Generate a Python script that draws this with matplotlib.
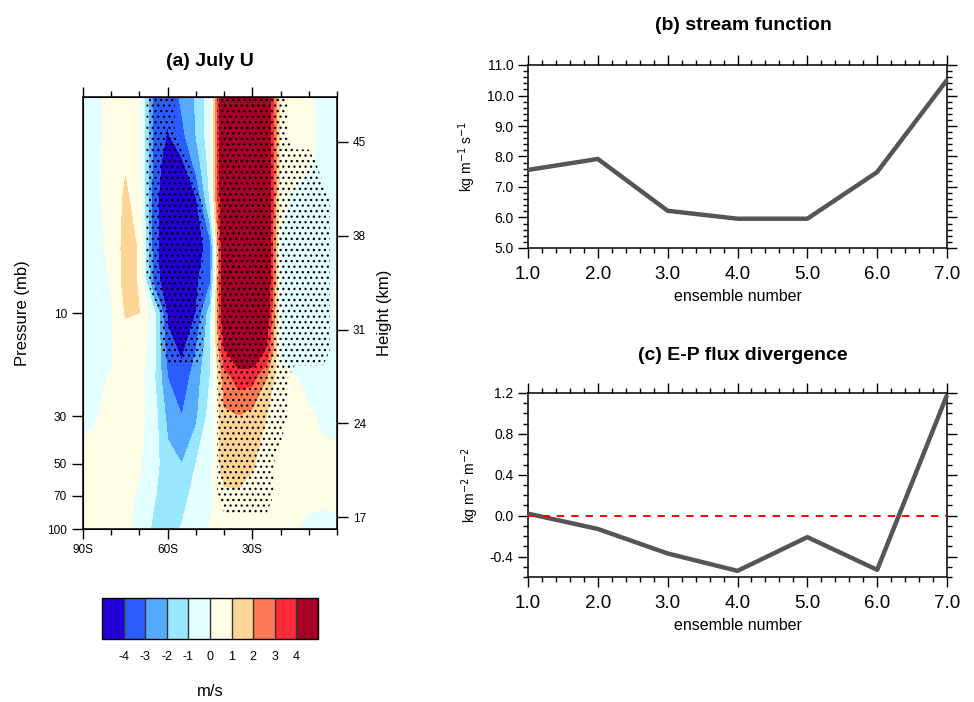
import numpy as np
import matplotlib
matplotlib.use("Agg")
import matplotlib.pyplot as plt
from matplotlib.colors import ListedColormap
from matplotlib.ticker import MultipleLocator, NullLocator, FixedLocator, FormatStrFormatter

plt.rcParams['font.family'] = ['Liberation Sans', 'DejaVu Sans']
plt.rcParams['axes.unicode_minus'] = False
plt.rcParams['hatch.color'] = 'black'
plt.rcParams['hatch.linewidth'] = 0.9

# ---- panel (a): July zonal wind difference (m/s)
lats = [-90, -85, -80, -75, -70, -65, -60, -55, -50, -45,
        -40, -35, -30, -25, -20, -15, -10, -5, 0]
plevs = [1, 1.5, 2, 3, 5, 7, 10, 15, 20, 30, 50, 70, 100]
u_july = np.array([
    [-0.3, -0.2, 0.3, 0.5, 0.1, -3.3, -3.8, -2.8, -1.9, -0.5, 6.0, 7.0, 7.0, 5.5, 0.6, 0.4, 0.2, -0.3, -0.5],
    [-0.3, -0.2, 0.3, 0.6, 0.2, -3.2, -4.1, -3.3, -2.0, -0.4, 6.0, 7.5, 7.5, 5.5, 0.6, 0.4, 0.2, -0.2, -0.5],
    [-0.3, -0.1, 0.3, 0.9, 0.3, -3.3, -4.6, -4.2, -2.6, -0.6, 6.0, 8.0, 8.0, 5.5, 0.6, 0.3, 0.1, -0.2, -0.4],
    [-0.3, -0.1, 0.2, 1.2, 0.5, -3.6, -4.8, -4.8, -4.2, -0.9, 6.0, 8.0, 8.0, 5.5, 0.3, -0.2, -0.3, -0.3, -0.4],
    [-0.3, -0.1, 0.1, 1.4, 0.9, -3.5, -5.0, -5.2, -4.5, -3.6, 6.0, 8.0, 8.0, 5.5, -0.2, -0.5, -0.6, -0.4, -0.2],
    [-0.3, -0.2, 0.05, 1.4, 0.9, -3.3, -5.0, -5.0, -4.2, -3.2, 6.0, 8.0, 8.0, 5.5, -0.2, -0.6, -0.6, -0.3, 0.05],
    [-0.3, -0.2, -0.1, 1.05, 1.0, -0.6, -4.2, -5.0, -4.0, -1.5, 5.5, 8.0, 8.0, 5.0, -0.2, -0.6, -0.5, -0.2, 0.05],
    [-0.2, -0.1, -0.1, 0.6, 0.5, -0.6, -3.5, -4.2, -3.0, -1.2, 3.8, 5.0, 5.0, 3.8, -0.1, -0.5, -0.4, -0.2, -0.2],
    [-0.2, -0.1, 0.05, 0.5, 0.4, -0.8, -3.0, -3.6, -2.5, -1.0, 2.5, 3.4, 3.3, 2.0, 0.2, 0.05, -0.2, -0.3, -0.3],
    [-0.2, -0.05, 0.3, 0.4, 0.3, -0.5, -2.3, -3.0, -2.2, -0.6, 1.8, 1.95, 1.6, 1.0, 0.3, 0.4, 0.1, -0.1, -0.2],
    [0.3, 0.4, 0.4, 0.3, 0.1, -0.6, -1.6, -2.0, -1.0, -0.3, 1.6, 1.6, 1.1, 0.5, 0.4, 0.4, 0.3, 0.2, 0.2],
    [0.3, 0.4, 0.4, 0.2, -0.1, -0.9, -1.5, -1.4, -0.6, -0.2, 0.7, 0.8, 0.6, 0.4, 0.3, 0.3, 0.2, 0.1, 0.1],
    [0.3, 0.4, 0.3, 0.2, -0.3, -1.2, -1.5, -0.9, -0.4, 0.05, 0.3, 0.4, 0.3, 0.2, 0.2, 0.05, -0.2, -0.2, -0.1],
])
# 1 where the difference is significant (stippled)
sig_july = np.array([
    [0, 0, 0, 0, 0, 1, 1, 0, 0, 0, 1, 1, 1, 1, 1, 0, 0, 0, 0],
    [0, 0, 0, 0, 0, 1, 1, 0, 0, 0, 1, 1, 1, 1, 1, 0, 0, 0, 0],
    [0, 0, 0, 0, 0, 1, 1, 1, 0, 0, 1, 1, 1, 1, 1, 1, 1, 0, 0],
    [0, 0, 0, 0, 0, 1, 1, 1, 1, 0, 1, 1, 1, 1, 1, 1, 1, 1, 0],
    [0, 0, 0, 0, 0, 1, 1, 1, 1, 0, 1, 1, 1, 1, 1, 1, 1, 1, 0],
    [0, 0, 0, 0, 0, 1, 1, 1, 1, 0, 1, 1, 1, 1, 1, 1, 1, 1, 0],
    [0, 0, 0, 0, 0, 0, 1, 1, 1, 0, 1, 1, 1, 1, 1, 1, 1, 1, 0],
    [0, 0, 0, 0, 0, 0, 1, 1, 1, 0, 1, 1, 1, 1, 1, 1, 1, 1, 0],
    [0, 0, 0, 0, 0, 0, 0, 0, 0, 0, 1, 1, 1, 1, 1, 0, 0, 0, 0],
    [0, 0, 0, 0, 0, 0, 0, 0, 0, 0, 1, 1, 1, 1, 1, 0, 0, 0, 0],
    [0, 0, 0, 0, 0, 0, 0, 0, 0, 0, 1, 1, 1, 1, 0, 0, 0, 0, 0],
    [0, 0, 0, 0, 0, 0, 0, 0, 0, 0, 1, 1, 1, 1, 0, 0, 0, 0, 0],
    [0, 0, 0, 0, 0, 0, 0, 0, 0, 0, 0, 0, 0, 0, 0, 0, 0, 0, 0],
])
u_levels = [-4, -3, -2, -1, 0, 1, 2, 3, 4]
u_colors = ['#2200d4', '#2b5cff', '#55aaff', '#99e6ff', '#e4ffff',
            '#fffde6', '#ffd597', '#ff7a55', '#ff2a3a', '#a50026']
p_ticks = [10, 30, 50, 70, 100]
lat_ticks = [-90, -60, -30]
lat_labels = ['90S', '60S', '30S']
height_km = [17, 24, 31, 38, 45]

# ---- panels (b) and (c)
ens = [1, 2, 3, 4, 5, 6, 7]
stream = [7.56, 7.92, 6.22, 5.96, 5.96, 7.49, 10.51]
ep_div = [0.02, -0.13, -0.37, -0.54, -0.21, -0.53, 1.18]

W, H = 974, 702
fig = plt.figure(figsize=(W / 100, H / 100), dpi=100)


def box(x0, y0, x1, y1):
    return [x0 / W, 1 - y1 / H, (x1 - x0) / W, (y1 - y0) / H]


# ---------------- (a)
ax = fig.add_axes(box(83, 97, 337, 529))
cmap = ListedColormap(u_colors[1:-1])
cmap.set_under(u_colors[0])
cmap.set_over(u_colors[-1])
cf = ax.contourf(lats, plevs, u_july, levels=u_levels, cmap=cmap, extend='both')
ax.contourf(lats, plevs, sig_july, levels=[0.5, 1.5], colors='none', hatches=['...'])
ax.set_yscale('log')
ax.set_ylim(100, 1)
ax.set_xlim(-90, 0)
ax.yaxis.set_major_locator(FixedLocator(p_ticks))
ax.yaxis.set_minor_locator(NullLocator())
ax.set_yticklabels([str(p) for p in p_ticks])
ax.set_xticks(lat_ticks)
ax.set_xticklabels(lat_labels)
ax.xaxis.set_minor_locator(MultipleLocator(10))
ax.tick_params(which='both', direction='out', top=True, labelsize=8.5, width=1)
ax.tick_params(which='major', length=7)
ax.tick_params(which='minor', length=4)
ax.tick_params(axis='y', length=8)
ax.set_ylabel('Pressure (mb)', fontsize=12, labelpad=12)
for s in ax.spines.values():
    s.set_linewidth(1.1)

ax2 = ax.twinx()
ax2.set_yscale('log')
ax2.set_ylim(100, 1)
ax2.yaxis.set_major_locator(FixedLocator([1000 * np.exp(-z / 7.0) for z in height_km]))
ax2.yaxis.set_minor_locator(NullLocator())
ax2.set_yticklabels([str(z) for z in height_km])
ax2.tick_params(direction='out', length=8, width=1, labelsize=8.5)
ax2.set_ylabel('Height (km)', fontsize=12, labelpad=8)
fig.text(210 / W, 1 - 62 / H, '(a) July U', ha='center', va='center',
         fontsize=14, fontweight='bold')

cax = fig.add_axes(box(102, 598, 318, 639))
cb = fig.colorbar(cf, cax=cax, orientation='horizontal', extendrect=True,
                  extendfrac='auto', drawedges=True, ticks=u_levels)
cb.outline.set_linewidth(1.0)
cb.dividers.set_color('#333333')
cb.dividers.set_linewidth(1.0)
cax.tick_params(length=0, labelsize=9, pad=9)
fig.text(210 / W, 1 - 692 / H, 'm/s', ha='center', va='center', fontsize=12)


# ---------------- (b), (c)
def line_panel(rect, y, ylim, ymajor, yminor, ylabel, title, ty):
    a = fig.add_axes(rect)
    a.plot(ens, y, color='#555555', lw=3.2, solid_capstyle='butt', clip_on=False, zorder=3)
    a.set_xlim(1, 7)
    a.set_ylim(*ylim)
    a.xaxis.set_major_locator(MultipleLocator(1))
    a.xaxis.set_minor_locator(MultipleLocator(0.2))
    a.yaxis.set_major_locator(ymajor)
    a.yaxis.set_minor_locator(MultipleLocator(yminor))
    a.xaxis.set_major_formatter(FormatStrFormatter('%.1f'))
    a.yaxis.set_major_formatter(FormatStrFormatter('%.1f'))
    a.tick_params(which='both', direction='out', top=True, right=True, width=1)
    a.tick_params(which='major', length=7)
    a.tick_params(which='minor', length=3.5)
    a.tick_params(axis='x', labelsize=13.5, pad=6)
    a.tick_params(axis='y', labelsize=10)
    a.set_xlabel('ensemble number', fontsize=11.5, labelpad=4)
    a.set_ylabel(ylabel, fontsize=10, labelpad=6)
    for s in a.spines.values():
        s.set_linewidth(1.1)
    fig.text(743 / W, 1 - ty / H, title, ha='center', va='center',
             fontsize=14, fontweight='bold')
    return a


axb = line_panel(box(528, 65, 947, 248), stream, (5, 11), MultipleLocator(1), 0.2,
                 r'kg m$^{-1}$ s$^{-1}$', '(b) stream function', 25)
axc = line_panel(box(528, 393, 947, 577), ep_div, (-0.6, 1.2),
                 FixedLocator([-0.4, 0.0, 0.4, 0.8, 1.2]), 0.1,
                 r'kg m$^{-2}$ m$^{-2}$', '(c) E-P flux divergence', 355)
axc.axhline(0, color='red', lw=1.4, ls=(0, (3.8, 3.6)), zorder=4)

fig.savefig('out.png', dpi=100)
